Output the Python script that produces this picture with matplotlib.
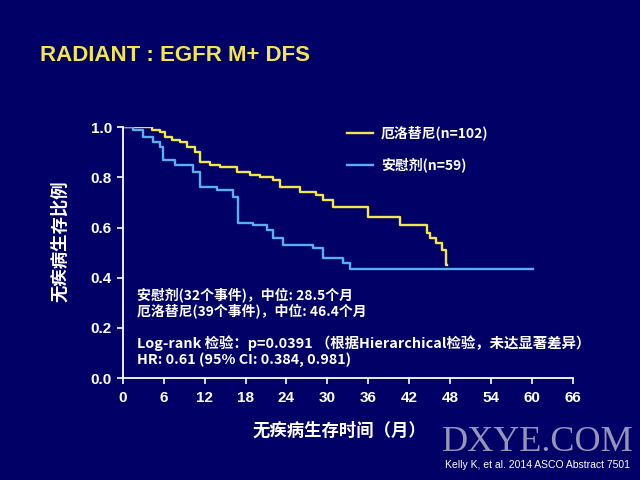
import matplotlib
matplotlib.use('Agg')
import matplotlib.pyplot as plt

# Kaplan-Meier steps (months, proportion disease-free)
erlo_t = [0, 4.2, 5.4, 6.2, 7.2, 8.4, 9.4, 10.6, 11.3, 12.8, 14.2, 16.7, 18.6, 20.1,
          22.0, 23.0, 26.0, 28.4, 29.3, 30.8, 35.9, 40.6, 44.6, 45.0, 46.0, 46.8, 47.4, 47.6]
erlo_s = [1.0, 0.99, 0.98, 0.96, 0.95, 0.94, 0.92, 0.90, 0.86, 0.85, 0.84, 0.82, 0.81, 0.80,
          0.79, 0.76, 0.74, 0.73, 0.71, 0.68, 0.64, 0.61, 0.58, 0.56, 0.54, 0.51, 0.45, 0.45]
plac_t = [0, 1.5, 2.9, 4.4, 5.4, 5.9, 7.6, 10.3, 11.3, 13.8, 16.1, 16.9, 19.1, 21.1,
          22.0, 23.5, 27.9, 29.3, 32.3, 33.3, 60.1]
plac_s = [1.0, 0.99, 0.96, 0.94, 0.92, 0.87, 0.85, 0.82, 0.76, 0.75, 0.72, 0.62, 0.61, 0.59,
          0.56, 0.53, 0.52, 0.48, 0.46, 0.435, 0.435]

xticks = list(range(0, 67, 6))
yticks = [0.0, 0.2, 0.4, 0.6, 0.8, 1.0]

bg = '#000066'
yellow = '#F2E64A'
blue = '#5AB0EC'
cjk = ['Noto Sans CJK SC', 'DejaVu Sans']
latin = ['Liberation Sans', 'DejaVu Sans']

fig = plt.figure(figsize=(6.4, 4.8), dpi=100, facecolor=bg)
ax = fig.add_axes([0.192, 0.2125, 0.703, 0.5225])
ax.set_facecolor(bg)

ax.step(erlo_t, erlo_s, where='post', color=yellow, lw=1.7)
ax.step(plac_t, plac_s, where='post', color=blue, lw=1.7)

ax.set_xlim(0, 66)
ax.set_ylim(0, 1.0)
ax.set_xticks(xticks)
ax.set_yticks(yticks)
ax.set_xticklabels([str(v) for v in xticks], family=latin, fontsize=11, fontweight='bold', color='white')
ax.set_yticklabels(['%.1f' % v for v in yticks], family=latin, fontsize=11, fontweight='bold', color='white')
ax.tick_params(colors='white', length=4, width=1.2)
ax.tick_params(axis='x', pad=5)
ax.tick_params(axis='y', pad=4)
for s in ['top', 'right']:
    ax.spines[s].set_visible(False)
for s in ['left', 'bottom']:
    ax.spines[s].set_color('white')
    ax.spines[s].set_linewidth(1.3)

fig.text(0.53, 0.103, '无疾病生存时间（月）', family=cjk, fontsize=12.5, fontweight='bold',
         color='white', ha='center', va='center')
fig.text(0.094, 0.498, '无疾病生存比例', family=cjk, fontsize=12.5, fontweight='bold',
         color='white', ha='center', va='center', rotation=90)

# legend drawn by hand to keep slide placement
fig.lines.append(plt.Line2D([0.542, 0.583], [0.723, 0.723], color=yellow, lw=1.7, transform=fig.transFigure))
fig.lines.append(plt.Line2D([0.542, 0.583], [0.656, 0.656], color=blue, lw=1.7, transform=fig.transFigure))
fig.text(0.595, 0.723, '厄洛替尼(n=102)', family=cjk, fontsize=10, fontweight='bold', color='white', va='center')
fig.text(0.595, 0.656, '安慰剂(n=59)', family=cjk, fontsize=10, fontweight='bold', color='white', va='center')

notes = [
    (0.385, '安慰剂(32个事件)，中位: 28.5个月', 10),
    (0.352, '厄洛替尼(39个事件)，中位: 46.4个月', 10),
    (0.285, 'Log-rank 检验：p=0.0391 （根据Hierarchical检验，未达显著差异）', 10.4),
    (0.250, 'HR: 0.61 (95% CI: 0.384, 0.981)', 10.4),
]
for y, t, fs in notes:
    fig.text(0.214, y, t, family=cjk, fontsize=fs, fontweight='bold', color='white', va='center')

fig.text(0.062, 0.885, 'RADIANT : EGFR M+ DFS', family=latin,
         fontsize=16, fontweight='bold', color=yellow, va='center')

fig.text(0.99, 0.079, 'DXYE.COM', family=['Liberation Serif', 'DejaVu Serif'], fontsize=26,
         color='#C8C8D8', alpha=0.75, ha='right', va='center')
fig.text(0.985, 0.031, 'Kelly K, et al. 2014 ASCO Abstract 7501', family=latin, fontsize=7.5,
         color='white', ha='right', va='center')

fig.savefig('out.png', dpi=100, facecolor=bg)
